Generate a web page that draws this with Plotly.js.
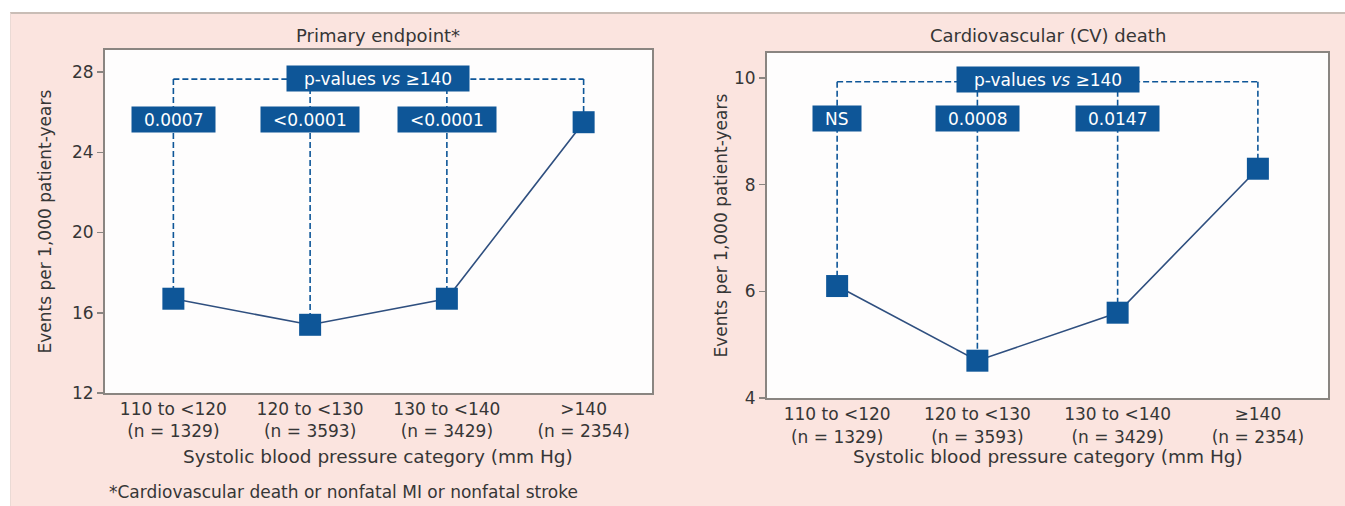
<!DOCTYPE html>
<html><head><meta charset="utf-8">
<script src="https://cdn.plot.ly/plotly-3.0.1.min.js"></script>
<style>
html,body{margin:0;padding:0;background:#fff;width:1345px;height:506px;overflow:hidden}
#wrap{position:absolute;left:10px;top:12px;width:1335px;height:494px;background:#fbe4df;border-top:2px solid #c9bdb6;border-left:1px solid #eadad5;box-sizing:border-box}
#chart{position:absolute;left:0;top:0;width:1334px;height:492px}
</style></head><body>
<div id="wrap"><div id="chart"></div></div>
<script>
// ---- data ----
const bpRangesPrimary = ['110 to <120', '120 to <130', '130 to <140', '>140'];
const bpRangesCV = ['110 to <120', '120 to <130', '130 to <140', '\u2265140'];
const nCounts = [1329, 3593, 3429, 2354];
const primaryRates = [16.7, 15.4, 16.7, 25.5];
const cvDeathRates = [6.1, 4.7, 5.6, 8.3];
const primaryP = ['0.0007', '<0.0001', '<0.0001'];
const cvDeathP = ['NS', '0.0008', '0.0147'];
const refLabel = 'p-values <i>vs</i> \u2265140';
const panelTitles = ['Primary endpoint*', 'Cardiovascular (CV) death'];
const yTitle = 'Events per 1,000 patient-years';
const xTitle = 'Systolic blood pressure category (mm Hg)';
const footnote = '*Cardiovascular death or nonfatal MI or nonfatal stroke';
const yTicksPrimary = [12, 16, 20, 24, 28];
const yTicksCV = [4, 6, 8, 10];

// ---- style ----
const FONT = '"DejaVu Sans", sans-serif';
const TXT = '#363636';
const BLUE = '#0e5698';
const LINE = '#2f4f7f';
const AXC = '#8a8581';

function esc(s){return s.replace(/&/g,'&amp;').replace(/</g,'&lt;').replace(/>/g,'&gt;');}
function textW(s,size){const c=document.createElement('canvas').getContext('2d');c.font=size+'px DejaVu Sans';return c.measureText(s).width;}

const idx = nCounts.map((_,i)=>i);
const ticksP = bpRangesPrimary.map((r,i)=>esc(r)+'<br>(n = '+nCounts[i]+')');
const ticksC = bpRangesCV.map((r,i)=>esc(r)+'<br>(n = '+nCounts[i]+')');

function panelTraces(rates, bracketY, xa, ya){
  const tr=[];
  const last=idx.length-1;
  tr.push({x:[idx[0],idx[last]],y:[bracketY,bracketY],xaxis:xa,yaxis:ya,mode:'lines',
    line:{color:BLUE,width:1.6,dash:'6px,3px'},hoverinfo:'skip',showlegend:false});
  idx.forEach(i=>{
    tr.push({x:[i,i],y:[bracketY,rates[i]],xaxis:xa,yaxis:ya,mode:'lines',
      line:{color:BLUE,width:1.6,dash:'6px,3px'},hoverinfo:'skip',showlegend:false});
  });
  tr.push({x:idx,y:rates,xaxis:xa,yaxis:ya,mode:'lines+markers',
    line:{color:LINE,width:1.6},marker:{symbol:'square',size:22,color:BLUE},showlegend:false});
  return tr;
}

const brP = 27.65, boxP = 25.66, refP = 27.68;
const brC = 9.93, boxC = 9.24, refC = 9.98;

const data = [...panelTraces(primaryRates, brP, 'x', 'y'), ...panelTraces(cvDeathRates, brC, 'x2', 'y2')];

function box(raw,x,y,xr,yr,isHtml){
  const plain = raw.replace(/<[^>]+>/g,'');
  return {x:x,y:y,xref:xr,yref:yr,text:isHtml?raw:esc(raw),showarrow:false,bgcolor:BLUE,
    font:{family:FONT,size:17,color:'#ffffff'},width:textW(plain,17)+20,height:21,borderpad:2,
    xanchor:'center',yanchor:'middle',align:'center'};
}
const ann=[];
primaryP.forEach((p,i)=>ann.push(box(p,idx[i],boxP,'x','y')));
cvDeathP.forEach((p,i)=>ann.push(box(p,idx[i],boxC,'x2','y2')));
ann.push(box(refLabel,(idx[1]+idx[2])/2,refP,'x','y',true));
ann.push(box(refLabel,(idx[1]+idx[2])/2,refC,'x2','y2',true));
// widen the reference boxes a little (more side padding in the original)
ann[ann.length-1].width+=10; ann[ann.length-2].width+=10;

function txt(t,x,y,opt){return Object.assign({text:t,x:x,y:y,xref:'paper',yref:'paper',showarrow:false,
  font:{family:FONT,size:17,color:TXT},xanchor:'center',yanchor:'middle'},opt||{});}
ann.push(txt(panelTitles[0],0.2751,0.9573,{font:{family:FONT,size:18,color:TXT}}));
ann.push(txt(panelTitles[1],0.7774,0.9573,{font:{family:FONT,size:18,color:TXT}}));
ann.push(txt(yTitle,0.0255,0.5783,{textangle:-90,font:{family:FONT,size:17,color:TXT}}));
ann.push(txt(yTitle,0.5315,0.5701,{textangle:-90,font:{family:FONT,size:17,color:TXT}}));
ann.push(txt(xTitle,0.2751,0.0996,{font:{family:FONT,size:18.5,color:TXT}}));
ann.push(txt(xTitle,0.7774,0.0996,{font:{family:FONT,size:18.5,color:TXT}}));
ann.push(txt(footnote,0.0718,0.0285,{xanchor:'left',font:{family:FONT,size:17,color:TXT}}));

const xCommon = {tickmode:'array',tickvals:idx,range:[-0.5,3.5],showgrid:false,zeroline:false,
  showline:true,mirror:true,linecolor:AXC,linewidth:2,ticks:'',
  tickfont:{family:FONT,size:17,color:TXT},fixedrange:true};
const yCommon = {tickmode:'array',showgrid:false,zeroline:false,showline:true,mirror:true,
  linecolor:AXC,linewidth:2,ticks:'outside',ticklen:6,tickwidth:1.5,tickcolor:AXC,
  tickfont:{family:FONT,size:17,color:TXT},fixedrange:true};

const layout = {
  width:1334,height:492,margin:{l:0,r:0,t:0,b:0},
  paper_bgcolor:'#fbe4df',plot_bgcolor:'#fefdfd',showlegend:false,
  font:{family:FONT,color:TXT},
  xaxis:Object.assign({},xCommon,{domain:[0.07046,0.48051],ticktext:ticksP,anchor:'y'}),
  yaxis:Object.assign({},yCommon,{domain:[0.2297,0.9268],range:[12,29.1],tickvals:yTicksPrimary,anchor:'x'}),
  xaxis2:Object.assign({},xCommon,{domain:[0.56672,0.98726],ticktext:ticksC,anchor:'y2'}),
  yaxis2:Object.assign({},yCommon,{domain:[0.2195,0.9207],range:[4,10.47],tickvals:yTicksCV,anchor:'x2'}),
  annotations:ann
};
Plotly.newPlot('chart',data,layout,{displayModeBar:false,staticPlot:true});
</script>
</body></html>
